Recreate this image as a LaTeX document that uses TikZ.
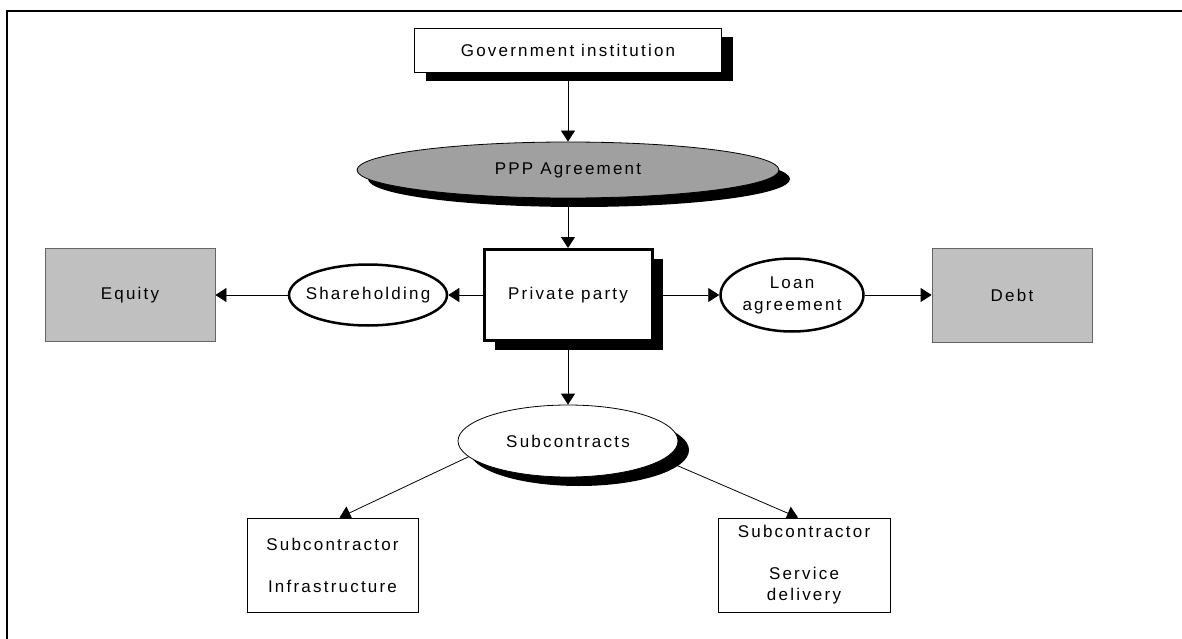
\documentclass[tikz,border=0pt]{standalone}
\usepackage{fontspec}
\setmainfont{Liberation Sans}[LetterSpace=13]
\usetikzlibrary{arrows.meta,shapes.geometric,shadows,backgrounds,calc}
\definecolor{pppgray}{RGB}{160,160,160}
\definecolor{capgray}{RGB}{192,192,192}
\newcommand{\ovaltext}[1]{\makebox[0pt]{#1}}
\tikzstyle{blackshadow} = [drop shadow={shadow xshift=11pt, shadow yshift=-9pt, fill=black, opacity=1}]
\tikzstyle{plainbox} = [rectangle, draw=black, line width=0.8pt, fill=white, inner sep=0pt, align=center]
\tikzstyle{capbox} = [rectangle, draw=black!60, line width=0.8pt, fill=capgray, minimum width=170pt, minimum height=93pt, inner sep=0pt]
\tikzstyle{deal} = [ellipse, draw=black, line width=2.5pt, fill=white, inner sep=0pt]
\tikzstyle{link} = [line width=0.8pt, -{Triangle[length=11pt,width=14pt]}]

\begin{document}
\begin{tikzpicture}[x=1pt, y=-1pt, every node/.style={font=\fontsize{17}{21}\selectfont}]
\useasboundingbox (0,0) rectangle (1182,639);
\draw[line width=2.4pt] (1182,11) -- (7,11) -- (7,639);
\node[plainbox, blackshadow, minimum width=307pt, minimum height=44pt] (gov) at (568,50) {Government institution};
\node[ellipse, draw=black, line width=0.8pt, fill=pppgray, blackshadow, inner sep=0pt, minimum width=422pt, minimum height=56pt] (ppp) at (568,170) {PPP Agreement};
\node[plainbox, blackshadow, line width=3pt, minimum width=168pt, minimum height=91pt] (party) at (568,295) {Private party};
\node[deal, minimum width=158pt, minimum height=61pt] (share) at (368,295) {\ovaltext{Shareholding}};
\node[deal, minimum width=143pt, minimum height=73pt] (loan) at (792,295) {\ovaltext{\begin{tabular}{@{}c@{}}Loan\\[1pt]agreement\end{tabular}}};
\node[capbox] (equity) at (130,295) {Equity};
\node[capbox, minimum width=160pt, minimum height=94pt] (debt) at (1012,295) {Debt};
\node[ellipse, draw=black, line width=0.8pt, fill=white, blackshadow, inner sep=0pt, minimum width=220pt, minimum height=72pt] (subc) at (568,441) {\ovaltext{Subcontracts}};
\node[plainbox, minimum width=171pt, minimum height=94pt] (infra) at (332.5,565) {Subcontractor\\[21pt]Infrastructure};
\node[plainbox, minimum width=172pt, minimum height=94pt] (service) at (804,565) {Subcontractor\\[21pt]Service\\delivery};
\begin{scope}[on background layer]
\draw[link] (gov) -- (ppp);
\draw[link] (ppp) -- (party);
\draw[link] (party) -- (share);
\draw[link] (share) -- (equity);
\draw[link] (party) -- (loan);
\draw[link] (loan) -- (debt);
\draw[link] (party) -- (subc);
\draw[link] (subc.189) -- ($(infra.north)+(7,0)$);
\draw[link] (subc.-11) -- ($(service.north)+(-6,0)$);
\end{scope}
\end{tikzpicture}
\end{document}
